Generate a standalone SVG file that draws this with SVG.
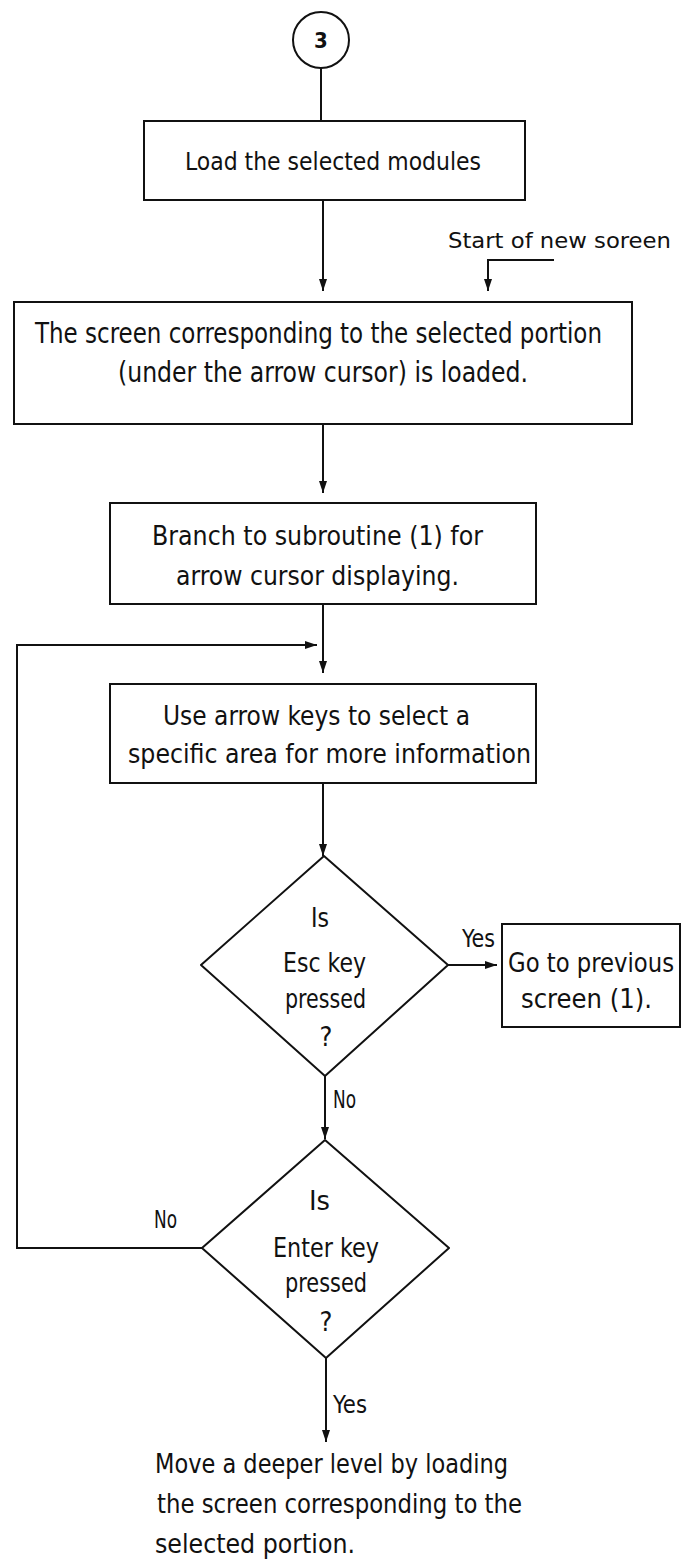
<svg xmlns="http://www.w3.org/2000/svg" width="682" height="1562" viewBox="0 0 682 1562">
<style>
  .bg{fill:#ffffff}
  .shape{fill:#ffffff;stroke:#111;stroke-width:2}
  .line{fill:none;stroke:#111;stroke-width:2}
  text{font-family:"Liberation Sans Narrow","DejaVu Sans Condensed","Liberation Sans",sans-serif;fill:#111;text-anchor:middle}
  .t28{font-size:28px}
  .t26{font-size:27px}
  .t24{font-size:26px}
  .t22{font-size:24px}
  .t20{font-size:21px}
  .left{text-anchor:start}
</style>
<defs>
  <marker id="ah2" markerUnits="userSpaceOnUse" markerWidth="12" markerHeight="8" refX="12" refY="4" orient="auto" viewBox="0 0 12 8">
    <path d="M0,0 L12,4 L0,8 z" fill="#111"/>
  </marker>
</defs>
<rect class="bg" x="0" y="0" width="682" height="1562"/>

<g id="connectors">
  <line class="line" x1="321" y1="68" x2="321" y2="121"/>
  <path class="line" d="M323,200 V291" marker-end="url(#ah2)"/>
  <path class="line" d="M554,260 H488 V291" marker-end="url(#ah2)"/>
  <path class="line" d="M323,424 V493" marker-end="url(#ah2)"/>
  <path class="line" d="M323,604 V673" marker-end="url(#ah2)"/>
  <path class="line" d="M202,1248 H17 V645 H317" marker-end="url(#ah2)"/>
  <path class="line" d="M323,783 V856" marker-end="url(#ah2)"/>
  <path class="line" d="M448,965 H497" marker-end="url(#ah2)"/>
  <path class="line" d="M325,1076 V1139" marker-end="url(#ah2)"/>
  <path class="line" d="M326,1358 V1442" marker-end="url(#ah2)"/>
</g>

<g id="start">
  <circle class="shape" cx="321" cy="40" r="28"/>
  <text x="321" y="48" style="font-size:22px;font-weight:bold">3</text>
</g>

<g id="load">
  <rect class="shape" x="144" y="121" width="381" height="79"/>
  <text class="t22" x="333" y="170" textLength="296" lengthAdjust="spacingAndGlyphs">Load the selected modules</text>
</g>

<g id="newscreen-label">
  <text class="t20" x="559.5" y="248" textLength="223" lengthAdjust="spacingAndGlyphs">Start of new soreen</text>
</g>

<g id="screen">
  <rect class="shape" x="14" y="302" width="618" height="122"/>
  <text class="t28" x="318.5" y="343" textLength="567" lengthAdjust="spacingAndGlyphs">The screen corresponding to the selected portion</text>
  <text class="t28" x="323" y="382" textLength="410" lengthAdjust="spacingAndGlyphs">(under the arrow cursor) is loaded.</text>
</g>

<g id="branch">
  <rect class="shape" x="110" y="503" width="426" height="101"/>
  <text class="t24" x="317.5" y="545" textLength="331" lengthAdjust="spacingAndGlyphs">Branch to subroutine (1) for</text>
  <text class="t24" x="317.5" y="585" textLength="283" lengthAdjust="spacingAndGlyphs">arrow cursor displaying.</text>
</g>

<g id="select">
  <rect class="shape" x="110" y="684" width="426" height="99"/>
  <text class="t24" x="316.5" y="725" textLength="307" lengthAdjust="spacingAndGlyphs">Use arrow keys to select a</text>
  <text class="t24" x="329.5" y="763" textLength="403" lengthAdjust="spacingAndGlyphs">specific area for more information</text>
</g>

<g id="esc">
  <path class="shape" d="M324,856 L448,965 L325,1076 L201,965 Z" stroke-linejoin="round"/>
  <text class="t26" x="320" y="927" textLength="18" lengthAdjust="spacingAndGlyphs">Is</text>
  <text class="t26" x="324.5" y="972" textLength="83" lengthAdjust="spacingAndGlyphs">Esc key</text>
  <text class="t26" x="325.5" y="1008" textLength="81" lengthAdjust="spacingAndGlyphs">pressed</text>
  <text class="t26" x="326" y="1046">?</text>
</g>

<g id="esc-yes-label">
  <text class="t22" x="478.5" y="947" textLength="33" lengthAdjust="spacingAndGlyphs">Yes</text>
</g>

<g id="previous">
  <rect class="shape" x="502" y="924" width="178" height="103"/>
  <text class="t24" x="591" y="972" textLength="166" lengthAdjust="spacingAndGlyphs">Go to previous</text>
  <text class="t24" x="586.5" y="1008" textLength="131" lengthAdjust="spacingAndGlyphs">screen (1).</text>
</g>

<g id="esc-no-label">
  <text class="t22" x="344.5" y="1108" textLength="23" lengthAdjust="spacingAndGlyphs">No</text>
</g>

<g id="enter">
  <path class="shape" d="M325,1140 L449,1248 L326,1358 L202,1248 Z" stroke-linejoin="round"/>
  <text class="t26" x="319.5" y="1210" textLength="21" lengthAdjust="spacingAndGlyphs">Is</text>
  <text class="t26" x="326" y="1257" textLength="106" lengthAdjust="spacingAndGlyphs">Enter key</text>
  <text class="t26" x="326" y="1292" textLength="82" lengthAdjust="spacingAndGlyphs">pressed</text>
  <text class="t26" x="326" y="1331">?</text>
</g>

<g id="enter-no-label">
  <text class="t22" x="165.5" y="1228" textLength="23" lengthAdjust="spacingAndGlyphs">No</text>
</g>

<g id="enter-yes-label">
  <text class="t22" x="350" y="1413" textLength="34" lengthAdjust="spacingAndGlyphs">Yes</text>
</g>

<g id="deeper">
  <text class="t24 left" x="155" y="1473" textLength="353" lengthAdjust="spacingAndGlyphs">Move a deeper level by loading</text>
  <text class="t24 left" x="157" y="1513" textLength="365" lengthAdjust="spacingAndGlyphs">the screen corresponding to the</text>
  <text class="t24 left" x="155" y="1553" textLength="200" lengthAdjust="spacingAndGlyphs">selected portion.</text>
</g>
</svg>
